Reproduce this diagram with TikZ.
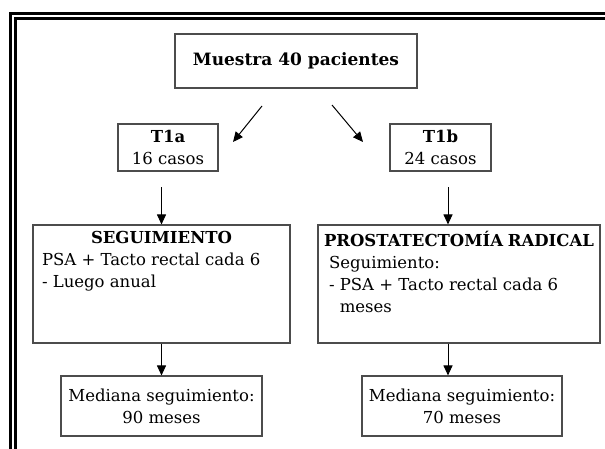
\documentclass[tikz,border=0pt]{standalone}
\usepackage{fontspec}
\setmainfont{DejaVu Serif}
\usetikzlibrary{arrows.meta,positioning}

\begin{document}
\begin{tikzpicture}[x=1pt,y=-1pt,font=\fontsize{16.5}{22}\selectfont,
  box/.style={draw=black!70,line width=1.1pt,inner sep=0pt,align=center},
  bigbox/.style={draw=black!70,line width=1.1pt,inner xsep=7pt,inner ysep=6pt},
  arr/.style={-{Triangle[length=10pt,width=9pt]},line width=1pt}]
\useasboundingbox (0,0) rectangle (605,449);
\draw[line width=2.8pt] (10.5,460) -- (10.5,13.5) -- (620,13.5);
\draw[line width=2.2pt] (15.5,460) -- (15.5,18.5) -- (620,18.5);

\node[box,minimum width=242pt,minimum height=54pt,font=\fontsize{17}{22}\selectfont\bfseries] (muestra) at (296,61) {Muestra 40 pacientes};
\node[box,minimum width=100pt,minimum height=47pt] (t1a) at (168,147.5) {\textbf{T1a}\\16 casos};
\node[box,minimum width=101pt,minimum height=47pt] (t1b) at (440.5,147.5) {\textbf{T1b}\\24 casos};
\node[bigbox] (seg) at (161.5,284) {\begin{minipage}[c][106pt][t]{243pt}
  {\centering\bfseries SEGUIMIENTO\par}
  \leftskip=2pt PSA + Tacto rectal cada 6\\- Luego anual
  \end{minipage}};
\node[bigbox,inner xsep=6pt] (pros) at (459,284) {\begin{minipage}[c][106pt][t]{270pt}
  {\bfseries PROSTATECTOMÍA RADICAL\par}
  \leftskip=5pt Seguimiento:\\- PSA + Tacto rectal cada 6\\\phantom{- }meses
  \end{minipage}};
\node[box,minimum width=201pt,minimum height=60pt] (med1) [below=122pt of seg.center,anchor=center] {Mediana seguimiento:\\90 meses};
\node[box,minimum width=200pt,minimum height=60pt] (med2) [below=122pt of pros.center,anchor=center,xshift=3pt] {Mediana seguimiento:\\70 meses};

\coordinate (a1) at (262,106);
\coordinate (a2) at (233,142);
\coordinate (b1) at (332,105);
\coordinate (b2) at (363,142);
\draw[arr] (a1) -- (a2);
\draw[arr] (b1) -- (b2);
\draw[arr] ([yshift=37pt]seg.north) -- (seg.north);
\draw[arr] ([xshift=-11pt,yshift=37pt]pros.north) -- ([xshift=-11pt]pros.north);
\draw[arr] (seg.south) -- (med1.north);
\draw[arr] ([xshift=-11pt]pros.south) -- ([xshift=-11pt]pros.south |- med2.north);
\end{tikzpicture}
\end{document}
